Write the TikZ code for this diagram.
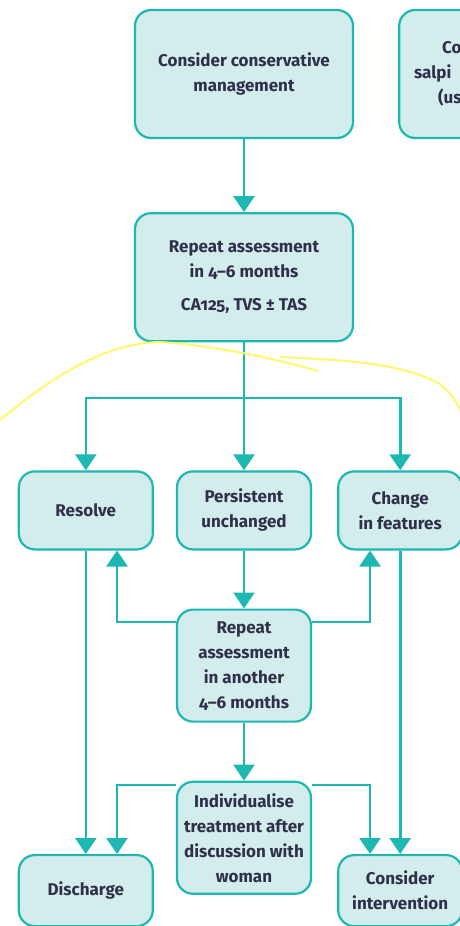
\documentclass[tikz,border=0pt]{standalone}
\usepackage{fontspec}
\setmainfont{Fira Sans}[Numbers=OldStyle]
\usepackage{tikz}
\usetikzlibrary{arrows.meta, positioning}

\definecolor{tealline}{HTML}{1DB8B1}
\definecolor{tealfill}{HTML}{D3ECEC}
\definecolor{boxtext}{HTML}{30304A}
\definecolor{scribble}{HTML}{FFF86A}

\begin{document}
\begin{tikzpicture}[
  x=1pt, y=-1pt,
  node distance=22pt,
  box/.style={draw=tealline, fill=tealfill, line width=2.2pt, rounded corners=16pt,
    align=center, text=boxtext, inner sep=0pt,
    font=\fontsize{17}{25}\selectfont\bfseries},
  bigbox/.style={box, minimum width=218pt, minimum height=128pt},
  smallbox/.style={box, minimum width=134pt, minimum height=78pt},
  arrow/.style={-{Triangle[length=16pt, width=21pt]}, line width=2.6pt, draw=tealline}
]
\useasboundingbox (0,0) rectangle (460,926);

\node[bigbox] (cons) at (244,74) {Consider conservative\\management};
\node[bigbox, right=44pt of cons, text width=218pt, align=left] (side)
  {\hspace*{43pt}Co\\\hspace*{15pt}salpi\\\hspace*{39pt}(us};
\node[bigbox, below=73pt of cons] (rep1) {Repeat assessment\\in 4--6 months\\[8pt]CA125, TVS ± TAS};

\node[smallbox, below=128pt of rep1] (pers) {Persistent\\unchanged};
\node[smallbox, left=of pers] (resolve) {Resolve};
\node[smallbox, minimum width=124pt, right=25pt of pers] (change) {Change\\in features};

\node[smallbox, minimum height=112pt, below=58pt of pers] (rep2) {Repeat\\assessment\\in another\\4--6 months};
\node[smallbox, minimum height=112pt, below=58pt of rep2] (indiv) {Individualise\\treatment after\\discussion with\\woman};

\node[smallbox, minimum height=71pt, anchor=north] (disch) at (resolve.south |- 0,854) {Discharge};
\node[smallbox, minimum width=124pt, minimum height=71pt, anchor=north] (interv) at (change.south |- 0,854) {Consider\\intervention};

% junctions
\coordinate (split) at (rep1.south |- 0,398);
\coordinate (upl) at (117,0);
\coordinate (upr) at (370,0);

\draw[arrow] (cons) -- (rep1);
\draw[line width=2.6pt, draw=tealline] (rep1.south) -- (split);
\draw[arrow] (split) -| (resolve.north);
\draw[arrow] (split) -- (pers.north);
\draw[arrow] (split) -| (change.north);
\draw[arrow] (pers) -- (rep2);
\draw[arrow] (rep2.west |- 0,622) -| (upl |- resolve.south);
\draw[arrow] (rep2.east |- 0,622) -| (upr |- change.south);
\draw[arrow] (rep2) -- (indiv);
\draw[arrow] (indiv.west |- 0,785) -| (upl |- disch.north);
\draw[arrow] (indiv.east |- 0,785) -| (upr |- interv.north);
\draw[arrow] (resolve.south) -- (disch.north);
\draw[arrow] (change.south) -- (interv.north);

% hand-drawn marks
\draw[scribble, line width=2pt] (0,420) .. controls (60,370) and (110,343) .. (160,342)
  .. controls (220,346) and (280,360) .. (318,371);
\draw[scribble, line width=2pt] (280,357) .. controls (340,360) and (400,362) .. (440,384)
  .. controls (452,394) and (458,404) .. (462,414);
\end{tikzpicture}
\end{document}
